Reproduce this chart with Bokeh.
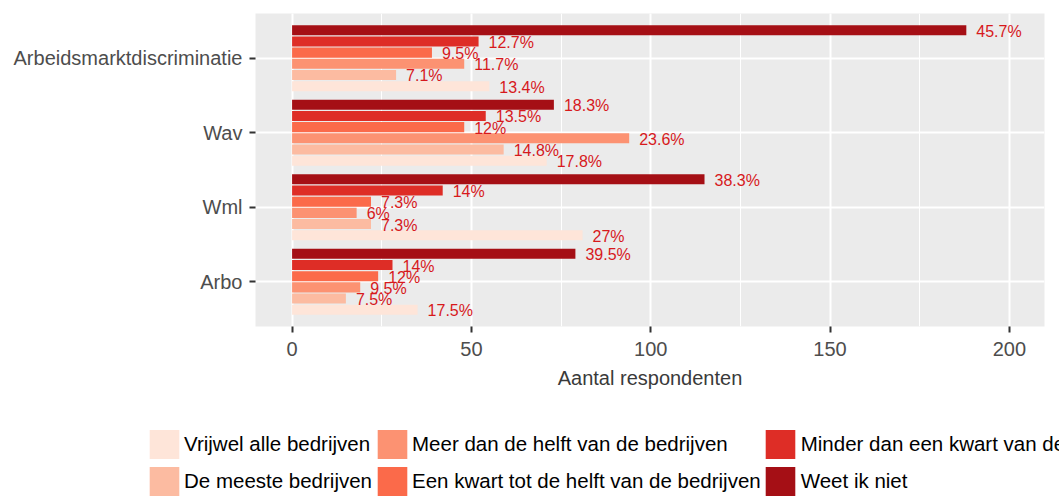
import numpy as np
from bokeh.plotting import figure
from bokeh.layouts import column
from bokeh.models import (ColumnDataSource, FixedTicker, SingleIntervalTicker,
                          Legend, LegendItem, Range1d)
from bokeh.core.properties import value
from bokeh.embed import file_html
from bokeh.resources import INLINE

# ---- data ----
categories = ["Arbo", "Wml", "Wav", "Arbeidsmarktdiscriminatie"]
series = ["Vrijwel alle bedrijven", "De meeste bedrijven",
          "Meer dan de helft van de bedrijven", "Een kwart tot de helft van de bedrijven",
          "Minder dan een kwart van de bedrijven", "Weet ik niet"]
colors = ["#FEE5D9", "#FCBBA1", "#FC9272", "#FB6A4A", "#DE2D26", "#A50F15"]

vrijwel_alle = [35, 81, 71, 55]
de_meeste = [15, 22, 59, 29]
meer_dan_helft = [19, 18, 94, 48]
kwart_tot_helft = [24, 22, 48, 39]
minder_dan_kwart = [28, 42, 54, 52]
weet_ik_niet = [79, 115, 73, 188]

lbl_vrijwel_alle = ["17.5%", "27%", "17.8%", "13.4%"]
lbl_de_meeste = ["7.5%", "7.3%", "14.8%", "7.1%"]
lbl_meer_dan_helft = ["9.5%", "6%", "23.6%", "11.7%"]
lbl_kwart_tot_helft = ["12%", "7.3%", "12%", "9.5%"]
lbl_minder_dan_kwart = ["14%", "14%", "13.5%", "12.7%"]
lbl_weet_ik_niet = ["39.5%", "38.3%", "18.3%", "45.7%"]

x_ticks_interval = 50

values_all = [vrijwel_alle, de_meeste, meer_dan_helft, kwart_tot_helft, minder_dan_kwart, weet_ik_niet]
labels_all = [lbl_vrijwel_alle, lbl_de_meeste, lbl_meer_dan_helft, lbl_kwart_tot_helft,
              lbl_minder_dan_kwart, lbl_weet_ik_niet]

FONT = "Liberation Sans"
LEFT, RIGHT = 255, 15

# ---------------- main chart ----------------
p = figure(width=1059, height=426, output_backend="svg", toolbar_location=None,
           x_range=Range1d(-10.2, 209.8), y_range=Range1d(0.4, 4.6),
           min_border_left=LEFT, min_border_right=RIGHT, min_border_top=13, min_border_bottom=100)
p.background_fill_color = "#EBEBEB"
p.border_fill_color = "white"
p.outline_line_color = None

n = len(series)
dodge_w = 0.9
slot = dodge_w / n
cat_pos = np.arange(1, len(categories) + 1)

text_x, text_y, text_l = [], [], []
for j, (s, vals, lbls) in enumerate(zip(series, values_all, labels_all)):
    ys = cat_pos - dodge_w / 2 + slot * (j + 0.5)
    src = ColumnDataSource(dict(y=ys, x=vals))
    p.hbar(y="y", right="x", left=0, height=slot * 0.9, source=src,
           fill_color=colors[j], line_color=None)
    text_x += list(vals)
    text_y += list(ys)
    text_l += list(lbls)

tsrc = ColumnDataSource(dict(x=text_x, y=text_y, t=text_l))
p.text(x="x", y="y", text="t", source=tsrc, x_offset=10, y_offset=1,
       text_align="left", text_baseline="middle", text_font=value(FONT),
       text_font_size="16px", text_color="#D7191C")

xt = SingleIntervalTicker(interval=x_ticks_interval, num_minor_ticks=2)
p.xaxis.ticker = xt
p.xgrid.ticker = xt
yt = FixedTicker(ticks=list(cat_pos))
p.yaxis.ticker = yt
p.ygrid.ticker = yt
p.yaxis.major_label_overrides = {int(i): c for i, c in zip(cat_pos, categories)}

for ax in (p.xaxis[0], p.yaxis[0]):
    ax.axis_line_color = None
    ax.major_tick_line_color = "#333333"
    ax.major_tick_line_width = 2
    ax.major_tick_out = 6
    ax.major_tick_in = 0
    ax.minor_tick_line_color = None
    ax.major_label_text_font = FONT
    ax.major_label_text_font_size = "20px"
    ax.major_label_text_color = "#4D4D4D"
p.yaxis.major_label_standoff = 7
p.xaxis.major_label_standoff = 9
p.xaxis.axis_label = "Aantal respondenten"
p.xaxis.axis_label_text_font = FONT
p.xaxis.axis_label_text_font_size = "20px"
p.xaxis.axis_label_text_font_style = "normal"
p.xaxis.axis_label_text_color = "#3A3A3A"
p.xaxis.axis_label_standoff = 8

p.xgrid.grid_line_color = "white"
p.xgrid.grid_line_width = 2
p.xgrid.minor_grid_line_color = "white"
p.xgrid.minor_grid_line_width = 1
p.ygrid.grid_line_color = "white"
p.ygrid.grid_line_width = 2

# ---------------- legend strip ----------------
lf = figure(width=1059, height=74, output_backend="svg", toolbar_location=None,
            x_range=Range1d(0, 1), y_range=Range1d(0, 1),
            min_border_left=LEFT, min_border_right=RIGHT, min_border_top=0, min_border_bottom=0)
lf.axis.visible = False
lf.grid.visible = False
lf.outline_line_color = None
lf.background_fill_color = "white"
lf.border_fill_color = "white"

# key swatches: one off-range dummy bar per series so the legend glyph gets its colour
key_renderers = []
for j, s in enumerate(series):
    ksrc = ColumnDataSource(dict(y=[-5], right=[0.5]))
    r = lf.hbar(y="y", right="right", left=0, height=0.1, source=ksrc,
                fill_color=colors[j], line_color=None)
    key_renderers.append(r)

items = [LegendItem(label=s, renderers=[r]) for s, r in zip(series, key_renderers)]
lg = Legend(items=items, location="top_center", orientation="vertical", nrows=2,
            glyph_width=37, glyph_height=36, label_standoff=2, spacing=1,
            padding=0, margin=0, border_line_color=None, background_fill_alpha=0,
            label_text_font=FONT, label_text_font_size="20.5px", label_text_color="black",
            label_height=36)
lf.add_layout(lg, "above")

layout = column(p, lf, spacing=0)
open("out.html", "w").write(file_html(layout, INLINE))
